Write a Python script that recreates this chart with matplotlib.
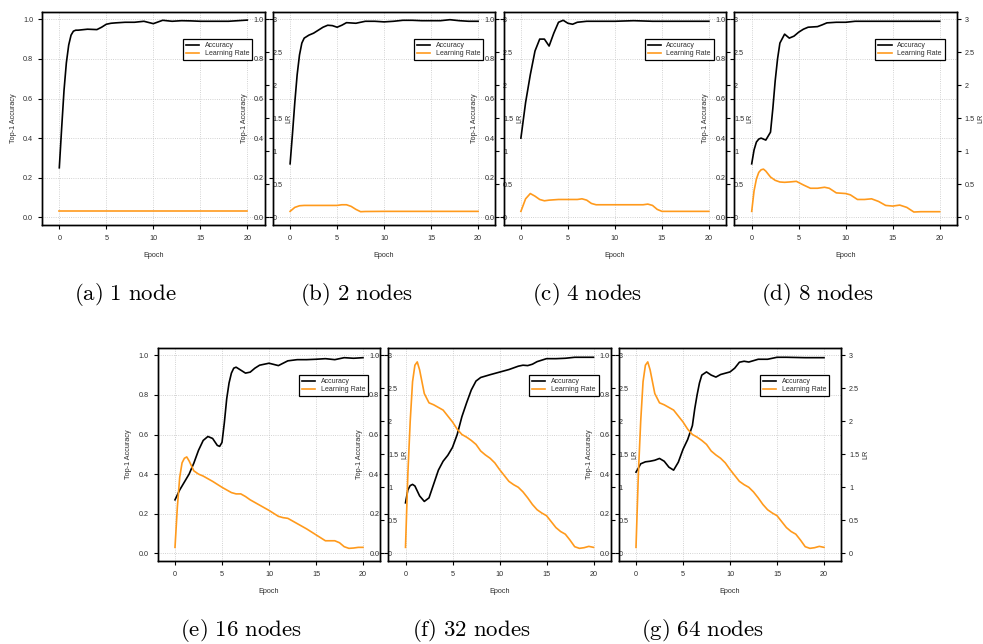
import matplotlib
matplotlib.use("Agg")
import matplotlib.pyplot as plt
from matplotlib.lines import Line2D

plt.rcParams["font.family"] = ["Liberation Sans", "DejaVu Sans"]
plt.rcParams["mathtext.fontset"] = "cm"

# ---- data (epoch, value) ----
a_acc_x = [0, 0.25, 0.5, 0.75, 1, 1.25, 1.5, 1.75, 2, 3, 4, 4.5, 5, 5.5, 6, 7, 8, 9, 10,
           11, 12, 13, 14, 15, 16, 17, 18, 19, 20]
a_acc = [0.25, 0.45, 0.64, 0.78, 0.87, 0.92, 0.94, 0.945, 0.945, 0.95, 0.948, 0.96, 0.975,
         0.98, 0.982, 0.985, 0.985, 0.99, 0.978, 0.995, 0.99, 0.993, 0.992, 0.99, 0.99,
         0.99, 0.99, 0.993, 0.996]
a_lr_x = [0, 5, 10, 15, 20]
a_lr = [0.09, 0.09, 0.09, 0.09, 0.09]

b_acc_x = [0, 0.25, 0.5, 0.75, 1, 1.25, 1.5, 2, 2.5, 3, 3.5, 4, 4.5, 5, 5.5, 6, 7, 8, 9, 10,
           11, 12, 13, 14, 15, 16, 17, 18, 19, 20]
b_acc = [0.27, 0.42, 0.58, 0.72, 0.82, 0.88, 0.905, 0.92, 0.93, 0.945, 0.96, 0.97, 0.968,
         0.96, 0.97, 0.983, 0.98, 0.99, 0.99, 0.987, 0.99, 0.995, 0.995, 0.993, 0.993,
         0.993, 0.998, 0.993, 0.99, 0.99]
b_lr_x = [0, 0.5, 1, 1.5, 2, 3, 4, 5, 5.5, 6, 6.5, 7, 7.5, 8, 10, 15, 20]
b_lr = [0.09, 0.15, 0.175, 0.18, 0.18, 0.18, 0.18, 0.18, 0.19, 0.19, 0.165, 0.12, 0.085,
        0.088, 0.09, 0.09, 0.09]

c_acc_x = [0, 0.5, 1, 1.5, 2, 2.5, 3, 3.5, 4, 4.5, 5, 5.5, 6, 7, 8, 10, 12, 14, 16, 18, 20]
c_acc = [0.40, 0.58, 0.72, 0.84, 0.9, 0.9, 0.865, 0.93, 0.985, 0.995, 0.98, 0.975, 0.985,
         0.99, 0.99, 0.99, 0.993, 0.99, 0.99, 0.99, 0.99]
c_lr_x = [0, 0.5, 1, 1.5, 2, 2.5, 3, 4, 5, 6, 6.5, 7, 7.5, 8, 9, 10, 11, 12, 13, 13.5, 14,
          14.5, 15, 16, 18, 20]
c_lr = [0.09, 0.28, 0.36, 0.32, 0.27, 0.25, 0.26, 0.27, 0.27, 0.27, 0.28, 0.26, 0.21, 0.19,
        0.19, 0.19, 0.19, 0.19, 0.19, 0.2, 0.18, 0.12, 0.09, 0.09, 0.09, 0.09]

d_acc_x = [0, 0.25, 0.5, 0.75, 1, 1.5, 2, 2.25, 2.5, 2.75, 3, 3.5, 4, 4.5, 5, 5.5, 6, 7,
           7.5, 8, 9, 10, 11, 12, 14, 16, 18, 20]
d_acc = [0.27, 0.34, 0.38, 0.395, 0.40, 0.39, 0.43, 0.55, 0.69, 0.80, 0.88, 0.925, 0.905,
         0.915, 0.935, 0.95, 0.96, 0.963, 0.972, 0.982, 0.985, 0.985, 0.99, 0.99, 0.99,
         0.99, 0.99, 0.99]
d_lr_x = [0, 0.25, 0.5, 0.75, 1, 1.25, 1.5, 2, 2.5, 3, 3.5, 4, 4.75, 5.5, 6.25, 7, 7.75,
          8.25, 9, 10, 10.5, 11.25, 12, 12.75, 13.5, 14.25, 15, 15.75, 16.5, 17.25, 18, 20]
d_lr = [0.09, 0.4, 0.58, 0.68, 0.72, 0.73, 0.7, 0.61, 0.56, 0.535, 0.53, 0.535, 0.545, 0.49,
        0.44, 0.44, 0.455, 0.44, 0.37, 0.36, 0.34, 0.27, 0.27, 0.28, 0.24, 0.18, 0.17,
        0.185, 0.15, 0.08, 0.085, 0.085]

e_acc_x = [0, 0.5, 1, 1.5, 2, 2.5, 3, 3.5, 4, 4.5, 4.75, 5, 5.25, 5.5, 5.75, 6, 6.25, 6.5,
           7, 7.5, 8, 8.5, 9, 10, 11, 11.5, 12, 13, 14, 15, 16, 17, 18, 19, 20]
e_acc = [0.27, 0.32, 0.36, 0.40, 0.455, 0.52, 0.57, 0.59, 0.58, 0.545, 0.54, 0.56, 0.66,
         0.78, 0.86, 0.91, 0.935, 0.94, 0.925, 0.91, 0.915, 0.935, 0.95, 0.96, 0.948, 0.96,
         0.972, 0.978, 0.978, 0.98, 0.983, 0.978, 0.988, 0.985, 0.988]
e_lr_x = [0, 0.25, 0.5, 0.75, 1, 1.25, 1.5, 2, 2.5, 3, 4, 5, 6, 6.5, 7, 7.5, 8, 9, 10, 11,
          11.5, 12, 13, 14, 15, 16, 17, 17.5, 18, 18.5, 19, 19.5, 20]
e_lr = [0.09, 0.7, 1.15, 1.37, 1.44, 1.46, 1.4, 1.25, 1.2, 1.17, 1.09, 1.0, 0.92, 0.9, 0.9,
        0.86, 0.81, 0.73, 0.65, 0.56, 0.54, 0.53, 0.45, 0.37, 0.28, 0.19, 0.19, 0.16, 0.1,
        0.075, 0.08, 0.09, 0.09]

f_acc_x = [0, 0.25, 0.5, 0.75, 1, 1.5, 2, 2.5, 3, 3.5, 4, 4.5, 5, 5.5, 6, 6.5, 7, 7.5, 8,
           8.5, 9, 10, 11, 12, 12.5, 13, 13.5, 14, 15, 16, 17, 18, 19, 20]
f_acc = [0.255, 0.32, 0.342, 0.348, 0.34, 0.29, 0.262, 0.28, 0.35, 0.42, 0.465, 0.495,
         0.535, 0.6, 0.69, 0.76, 0.825, 0.87, 0.888, 0.895, 0.902, 0.915, 0.928, 0.945,
         0.95, 0.948, 0.955, 0.968, 0.983, 0.983, 0.985, 0.99, 0.99, 0.99]
f_lr_x = [0, 0.25, 0.5, 0.75, 1, 1.25, 1.5, 1.75, 2, 2.5, 3, 3.5, 4, 4.5, 5, 5.5, 6, 6.5, 7,
          7.5, 8, 8.5, 9, 9.5, 10, 10.5, 11, 11.5, 12, 12.5, 13, 13.5, 14, 14.5, 15, 15.5,
          16, 16.5, 17, 17.5, 18, 18.5, 19, 19.5, 20]
f_lr = [0.09, 1.2, 2.0, 2.6, 2.85, 2.9, 2.78, 2.6, 2.42, 2.28, 2.25, 2.21, 2.17, 2.08, 1.99,
        1.88, 1.8, 1.76, 1.71, 1.65, 1.55, 1.49, 1.44, 1.37, 1.27, 1.18, 1.09, 1.04, 1.0,
        0.93, 0.84, 0.74, 0.66, 0.61, 0.57, 0.48, 0.39, 0.33, 0.29, 0.2, 0.1, 0.075, 0.085,
        0.105, 0.09]

g_acc_x = [0, 0.25, 0.5, 1, 1.5, 2, 2.5, 3, 3.5, 4, 4.5, 5, 5.5, 6, 6.25, 6.5, 6.75, 7, 7.5,
           8, 8.5, 9, 10, 10.5, 11, 11.5, 12, 13, 14, 15, 16, 18, 20]
g_acc = [0.41, 0.43, 0.452, 0.462, 0.465, 0.47, 0.479, 0.465, 0.435, 0.42, 0.46, 0.525,
         0.575, 0.645, 0.73, 0.8, 0.86, 0.9, 0.916, 0.9, 0.89, 0.903, 0.916, 0.935, 0.965,
         0.97, 0.966, 0.98, 0.98, 0.99, 0.99, 0.988, 0.988]
g_lr_x = f_lr_x
g_lr = [0.09, 1.2, 2.0, 2.6, 2.85, 2.9, 2.78, 2.6, 2.42, 2.28, 2.25, 2.21, 2.17, 2.08, 1.99,
        1.88, 1.8, 1.76, 1.71, 1.65, 1.55, 1.49, 1.44, 1.37, 1.27, 1.18, 1.09, 1.04, 1.0,
        0.93, 0.84, 0.74, 0.66, 0.61, 0.57, 0.48, 0.39, 0.33, 0.29, 0.2, 0.1, 0.075, 0.085,
        0.105, 0.09]

captions = ["(a) 1 node", "(b) 2 nodes", "(c) 4 nodes", "(d) 8 nodes",
            "(e) 16 nodes", "(f) 32 nodes", "(g) 64 nodes"]
x_ticks = [0, 5, 10, 15, 20]
acc_ticks = [0.0, 0.2, 0.4, 0.6, 0.8, 1.0]
lr_ticks = [0, 0.5, 1, 1.5, 2, 2.5, 3]
lr_ticklabels = ["0", "0.5", "1", "1.5", "2", "2.5", "3"]

ACC_COLOR = "black"
LR_COLOR = "#ff9a1c"
TXT = "#2e2e2e"
FS = 5.2

W, H = 983, 644
fig = plt.figure(figsize=(W / 100, H / 100), dpi=100)

PX_EPOCH = 9.4
PX_ACC = 198.0
XLIM = (-1.85, 21.85)
YLIM = (-0.039, 1.039)


def draw_panel(x0, y0, ex, acc, lx, lr, caption):
    # x0 / y0: pixel position of epoch 0 / accuracy 0 in the figure
    left = x0 + XLIM[0] * PX_EPOCH
    width = (XLIM[1] - XLIM[0]) * PX_EPOCH
    bottom = y0 - YLIM[0] * PX_ACC
    height = (YLIM[1] - YLIM[0]) * PX_ACC
    ax = fig.add_axes([left / W, 1 - bottom / H, width / W, height / H])
    ax.patch.set_alpha(0)
    ax.set_xlim(XLIM)
    ax.set_ylim(YLIM)
    ax.set_xticks(x_ticks)
    ax.set_yticks(acc_ticks)
    ax.grid(True, linestyle=":", color="#c4c4c4", linewidth=0.6)
    ax.tick_params(axis="both", direction="out", length=3, width=0.8,
                   labelsize=FS, labelcolor=TXT, color="black")
    ax.tick_params(axis="x", pad=4.3)
    ax.tick_params(axis="y", pad=3.3)
    ax.plot(ex, acc, color=ACC_COLOR, lw=1.2)

    ax2 = ax.twinx()
    ax2.set_ylim(YLIM[0] * 3, YLIM[1] * 3)
    ax2.set_yticks(lr_ticks)
    ax2.set_yticklabels(lr_ticklabels)
    ax2.tick_params(axis="y", direction="out", length=3, width=0.8, pad=2.5,
                    labelsize=FS, labelcolor=TXT, color="black")
    ax2.plot(lx, lr, color=LR_COLOR, lw=1.2)
    for a in (ax, ax2):
        for s in a.spines.values():
            s.set_linewidth(1.0)
            s.set_color("black")

    ax.text(-28.7 / width, 0.5, "Top-1 Accuracy", transform=ax.transAxes, rotation=90,
            ha="center", va="center", fontsize=FS, color=TXT)
    ax.text(1 + 24 / width, 0.5, "LR", transform=ax.transAxes, rotation=90,
            ha="center", va="center", fontsize=FS, color=TXT)
    ax.text(0.5, -30 / height, "Epoch", transform=ax.transAxes,
            ha="center", va="center", fontsize=FS, color=TXT)

    handles = [Line2D([], [], color=ACC_COLOR, lw=1.2),
               Line2D([], [], color=LR_COLOR, lw=1.2)]
    leg = ax2.legend(handles, ["Accuracy", "Learning Rate"], loc="upper right",
                     bbox_to_anchor=(0.945, 0.871), borderaxespad=0, fontsize=FS - 0.2,
                     fancybox=False, framealpha=1, edgecolor="black", borderpad=0.45,
                     handlelength=1.9, handletextpad=0.8, labelspacing=0.15)
    leg.get_frame().set_linewidth(0.9)
    for t in leg.get_texts():
        t.set_color(TXT)

    cap_y = y0 + 77
    words = caption.replace(" ", r"\ ")
    fig.text((x0 + 66) / W, 1 - cap_y / H, r"$\mathrm{" + words + "}$",
             ha="center", va="center", fontsize=16.5)


panels = [
    (a_acc_x, a_acc, a_lr_x, a_lr),
    (b_acc_x, b_acc, b_lr_x, b_lr),
    (c_acc_x, c_acc, c_lr_x, c_lr),
    (d_acc_x, d_acc, d_lr_x, d_lr),
    (e_acc_x, e_acc, e_lr_x, e_lr),
    (f_acc_x, f_acc, f_lr_x, f_lr),
    (g_acc_x, g_acc, g_lr_x, g_lr),
]

for i, (ex, acc, lx, lr) in enumerate(panels):
    if i < 4:
        x0 = 59.3 + 230.8 * i
        y0 = 217.3
    else:
        x0 = 175.0 + 230.5 * (i - 4)
        y0 = 553.3
    draw_panel(x0, y0, ex, acc, lx, lr, captions[i])

fig.savefig("out.png", dpi=100)
